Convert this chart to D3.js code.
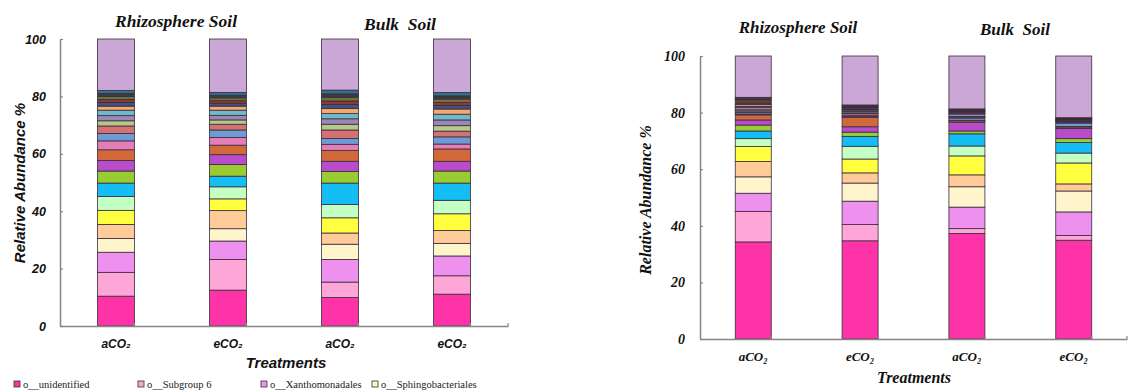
<!DOCTYPE html>
<html><head><meta charset="utf-8">
<script src="https://cdn.jsdelivr.net/npm/d3@7"></script>
<style>body{margin:0;background:#fff}svg{display:block}</style>
</head><body>
<svg id="chart" width="1145" height="390"></svg>
<script>
// Treatments on the x axis and the two soil groups titled over the bars
const treatments = ["aCO₂", "eCO₂", "aCO₂", "eCO₂"];
const soilGroups = ["Rhizosphere Soil", "Bulk Soil"];
const yTicks = [0, 20, 40, 60, 80, 100];

// Order-level taxa, bottom to top of each stacked bar (last one = remaining orders)
const legendLabels = ["o__unidentified", "o__Subgroup 6", "o__Xanthomonadales", "o__Sphingobacteriales"];
const orderColors = [
  "#FF33A8", "#FFA6D9", "#EE90EE", "#FFF5CC", "#FFCC99", "#FFFF40",
  "#C4FFC4", "#14BEF5", "#99CC33", "#B84CCB", "#D2693A", "#E57EB8",
  "#6E9BD3", "#D47272", "#B6C98B", "#9B86B8", "#6DBACB", "#F5A76C",
  "#3E5286", "#8E3A2C", "#70723F", "#3C3C3C", "#2F7191", "#CBA7D6"
];

// Relative abundance (%) per order — first experiment
const expA_rhizo_aCO2 = [10.4, 8.3, 7.0, 4.8, 4.9, 4.9, 4.8, 4.7, 4.2, 3.7, 3.7, 3.1, 2.6, 2.6, 1.8, 1.8, 1.9, 1.4, 1.3, 1.0, 1.1, 1.0, 1.1, 17.9];
const expA_rhizo_eCO2 = [12.5, 10.7, 6.4, 4.3, 6.3, 4.1, 4.2, 3.7, 4.1, 3.4, 3.3, 2.7, 2.6, 2.0, 1.5, 1.6, 1.8, 1.4, 1.0, 0.9, 1.0, 0.9, 1.0, 18.6];
const expA_bulk_aCO2 = [9.9, 5.4, 7.9, 5.3, 3.9, 5.3, 4.6, 7.5, 4.0, 3.6, 3.8, 2.1, 2.0, 3.0, 2.0, 1.9, 1.8, 1.8, 1.4, 1.2, 1.3, 1.2, 1.3, 17.8];
const expA_bulk_eCO2 = [11.1, 6.4, 6.9, 4.4, 4.5, 5.8, 4.7, 6.0, 4.2, 3.4, 4.3, 1.7, 2.5, 2.0, 1.9, 2.0, 2.0, 1.8, 1.2, 1.1, 1.2, 1.1, 1.2, 18.6];

// Relative abundance (%) per order — second experiment
const expB_rhizo_aCO2 = [34.3, 10.8, 6.4, 5.8, 5.4, 5.3, 2.8, 2.7, 2.1, 1.8, 1.8, 0.3, 0.6, 0.5, 0.4, 0.8, 0.4, 0.6, 0.6, 0.8, 0.5, 0.4, 0.3, 14.6];
const expB_rhizo_eCO2 = [34.7, 5.8, 8.2, 6.4, 3.6, 4.9, 4.5, 3.5, 1.5, 1.9, 3.3, 0.3, 0.5, 0.6, 0.2, 0.5, 0.3, 0.4, 0.5, 0.3, 0.2, 0.4, 0.2, 17.3];
const expB_bulk_aCO2 = [37.3, 1.7, 7.6, 7.2, 4.2, 6.7, 3.5, 4.3, 1.0, 3.1, 0.5, 0.2, 0.8, 0.3, 0.2, 0.9, 0.2, 0.3, 0.4, 0.2, 0.3, 0.3, 0.1, 18.7];
const expB_bulk_eCO2 = [34.9, 1.7, 8.3, 7.4, 2.5, 7.4, 3.5, 3.7, 1.4, 3.6, 0.5, 0.2, 1.2, 0.2, 0.2, 0.3, 0.2, 0.1, 0.3, 0.2, 0.2, 0.1, 0.1, 21.8];

const svg = d3.select("#chart");
const axisColor = "#858585";

function drawPanel(p) {
  const g = svg.append("g");
  const x = d3.scaleBand().domain(d3.range(treatments.length)).range([p.x0, p.x1])
    .paddingInner(p.padIn).paddingOuter(p.padOut);
  const y = d3.scaleLinear().domain([0, 100]).range([p.y0, p.y1]);

  const keys = d3.range(orderColors.length);
  const rows = p.bars.map(vals => { const r = {}; vals.forEach((v, k) => r[k] = v); return r; });
  const stacked = d3.stack().keys(keys)(rows);

  g.append("g").selectAll("g").data(stacked).join("g")
    .attr("fill", (d, k) => orderColors[k])
    .selectAll("rect").data(d => d).join("rect")
    .attr("x", (d, i) => x(i))
    .attr("width", x.bandwidth())
    .attr("y", d => y(d[1]))
    .attr("height", d => y(d[0]) - y(d[1]))
    .attr("stroke", "#3a2c3c")
    .attr("stroke-width", 0.8);

  // y axis
  const ya = g.append("g").attr("transform", `translate(${p.x0},0)`)
    .call(d3.axisLeft(y).tickValues(yTicks).tickSizeInner(-3).tickSizeOuter(0).tickPadding(p.tickPad));
  ya.select(".domain").attr("stroke", axisColor).attr("stroke-width", 1.5);
  ya.selectAll(".tick line").attr("stroke", axisColor).attr("stroke-width", 1.2);
  ya.selectAll(".tick text").attr("font-family", p.font).attr("font-size", p.tickSize)
    .attr("font-weight", "bold").attr("font-style", "italic").attr("fill", "#111");

  // x axis
  const xa = g.append("g").attr("transform", `translate(0,${p.y0})`)
    .call(d3.axisBottom(x).tickSizeInner(-3).tickSizeOuter(0).tickFormat(() => ""));
  xa.select(".domain").attr("stroke", axisColor).attr("stroke-width", 1.5);
  xa.selectAll(".tick line").attr("stroke", axisColor).attr("stroke-width", 1.2)
    .attr("transform", `translate(${x.bandwidth() / 2},0)`);
  xa.append("line").attr("x1", p.x1).attr("x2", p.x1).attr("y1", 0).attr("y2", -3)
    .attr("stroke", axisColor).attr("stroke-width", 1.2);

  const txt = (sel) => sel.attr("font-family", p.font).attr("font-weight", "bold")
    .attr("font-style", "italic").attr("fill", "#111").attr("text-anchor", "middle");

  g.append("g").selectAll("text").data(treatments).join("text")
    .call(txt)
    .attr("x", (d, i) => x(i) + x.bandwidth() / 2)
    .attr("y", p.catY)
    .attr("font-size", p.catSize)
    .text(d => d);

  g.append("text").call(txt).attr("x", p.treatX).attr("y", p.treatY)
    .attr("font-size", p.labelSize).text("Treatments");

  g.append("text").call(txt)
    .attr("transform", `translate(${p.ylabX},${p.ylabY}) rotate(-90)`)
    .attr("font-size", p.labelSize).text("Relative Abundance %");

  soilGroups.forEach((s, i) => {
    g.append("text").call(txt)
      .attr("font-family", "Liberation Serif")
      .attr("x", p.titleX[i]).attr("y", p.titleY[i])
      .attr("font-size", p.titleSize)
      .style("white-space", "pre")
      .text(i === 1 ? "Bulk  Soil" : s);
  });
}

drawPanel({
  bars: [expA_rhizo_aCO2, expA_rhizo_eCO2, expA_bulk_aCO2, expA_bulk_eCO2],
  x0: 60, x1: 508, y0: 326, y1: 39, padIn: 0.67, padOut: 0.335,
  font: "Liberation Sans", tickSize: 12.5, tickPad: 14,
  catY: 348, catSize: 12, treatX: 286, treatY: 368, labelSize: 15,
  ylabX: 25, ylabY: 183, titleX: [176, 400], titleY: [27, 30], titleSize: 17.5
});

drawPanel({
  bars: [expB_rhizo_aCO2, expB_rhizo_eCO2, expB_bulk_aCO2, expB_bulk_eCO2],
  x0: 700, x1: 1127, y0: 339, y1: 56, padIn: 0.663, padOut: 0.33,
  font: "Liberation Serif", tickSize: 14, tickPad: 15,
  catY: 361, catSize: 13, treatX: 914, treatY: 383, labelSize: 16,
  ylabX: 651, ylabY: 200, titleX: [798, 1015], titleY: [33, 35], titleSize: 17
});

// Legend row along the bottom edge
const legendX = [14, 138, 261, 372];
const lg = svg.append("g").selectAll("g").data(legendLabels).join("g")
  .attr("transform", (d, i) => `translate(${legendX[i]},381)`);
lg.append("rect").attr("width", 6).attr("height", 6)
  .attr("fill", (d, i) => orderColors[i]).attr("stroke", "#333").attr("stroke-width", 0.8);
lg.append("text").attr("x", 9).attr("y", 6.5).attr("font-family", "Liberation Serif")
  .attr("font-size", 10.5).attr("fill", "#222").text(d => d);
</script>
</body></html>
